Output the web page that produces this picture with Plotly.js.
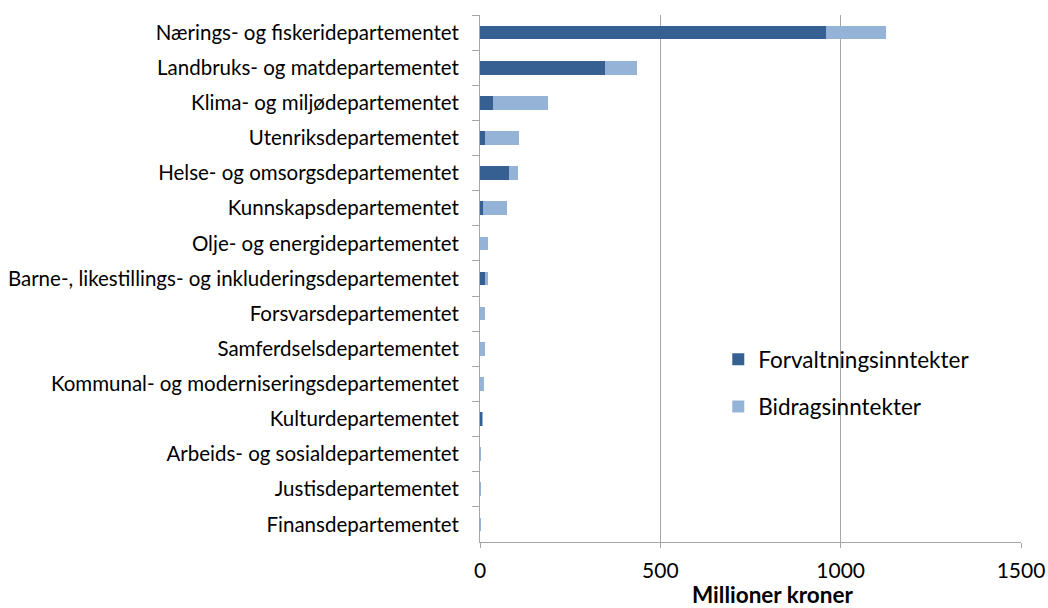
<!DOCTYPE html>
<html><head><meta charset="utf-8">
<script src="https://cdn.plot.ly/plotly-3.0.1.min.js"></script>
<style>html,body{margin:0;padding:0;background:#fff;}#chart{width:1048px;height:608px;}</style>
</head><body><div id="chart"></div>
<script>
const categories = [
  "Nærings- og fiskeridepartementet",
  "Landbruks- og matdepartementet",
  "Klima- og miljødepartementet",
  "Utenriksdepartementet",
  "Helse- og omsorgsdepartementet",
  "Kunnskapsdepartementet",
  "Olje- og energidepartementet",
  "Barne-, likestillings- og inkluderingsdepartementet",
  "Forsvarsdepartementet",
  "Samferdselsdepartementet",
  "Kommunal- og moderniseringsdepartementet",
  "Kulturdepartementet",
  "Arbeids- og sosialdepartementet",
  "Justisdepartementet",
  "Finansdepartementet"
];
const forvaltningsinntekter = [960, 347, 36, 14, 80, 7, 0, 14, 0, 0, 0, 6, 0, 0, 0];
const bidragsinntekter      = [165, 88, 152, 94, 26, 69, 21, 7, 15, 15, 12, 1, 4, 4, 4];
const xTicks = [0, 500, 1000, 1500];
const seriesNames = ["Forvaltningsinntekter", "Bidragsinntekter"];
const xTitle = "Millioner kroner";

const FONT = "Lato, 'Open Sans', sans-serif";
const data = [
  {type:"bar", orientation:"h", name:seriesNames[0], y:categories, x:forvaltningsinntekter,
   marker:{color:"#376092"}, legendgroup:"a", hoverinfo:"x+y"},
  {type:"bar", orientation:"h", name:seriesNames[1], y:categories, x:bidragsinntekter,
   marker:{color:"#95B3D7"}, legendgroup:"b", hoverinfo:"x+y"}
];
const layout = {
  width:1048, height:608,
  margin:{l:479.5, r:27, t:15, b:66},
  barmode:"stack", bargap:0.61,
  paper_bgcolor:"#fff", plot_bgcolor:"#fff",
  font:{family:FONT, size:18, color:"#000"},
  showlegend:true,
  legend:{x:(718-479.5)/541.5, y:(542-338)/527, xanchor:"left", yanchor:"top", bgcolor:"rgba(0,0,0,0)",
          font:{family:FONT, size:22.5, color:"#000"}, tracegroupgap:15, traceorder:"grouped"},
  xaxis:{range:[0,1500], tickvals:xTicks, ticktext:xTicks.map(String),
         showgrid:true, gridcolor:"#a6a6a6", gridwidth:1, zeroline:false,
         showline:true, linecolor:"#a6a6a6", linewidth:1,
         ticks:"outside", ticklen:5, tickcolor:"#a6a6a6",
         tickfont:{family:FONT, size:21, color:"#000"}, ticklabelstandoff:5,
         fixedrange:true},
  yaxis:{type:"category", categoryorder:"array", categoryarray:categories.slice(),
         autorange:"reversed", showgrid:false, zeroline:false,
         showline:true, linecolor:"#a6a6a6", linewidth:1,
         ticks:"outside", ticklen:7, tickcolor:"#a6a6a6", tickson:"boundaries",
         tickfont:{family:FONT, size:20.5, color:"#000"}, ticklabelstandoff:16,
         fixedrange:true},
  annotations:[{text:"<b>"+xTitle+"</b>", xref:"paper", yref:"paper",
                x:(772-479.5)/541.5, y:(542-594)/527, xanchor:"center", yanchor:"middle",
                showarrow:false, font:{family:FONT, size:22.5, color:"#000"}}]
};
Plotly.newPlot("chart", data, layout, {displayModeBar:false, staticPlot:true});
</script></body></html>
